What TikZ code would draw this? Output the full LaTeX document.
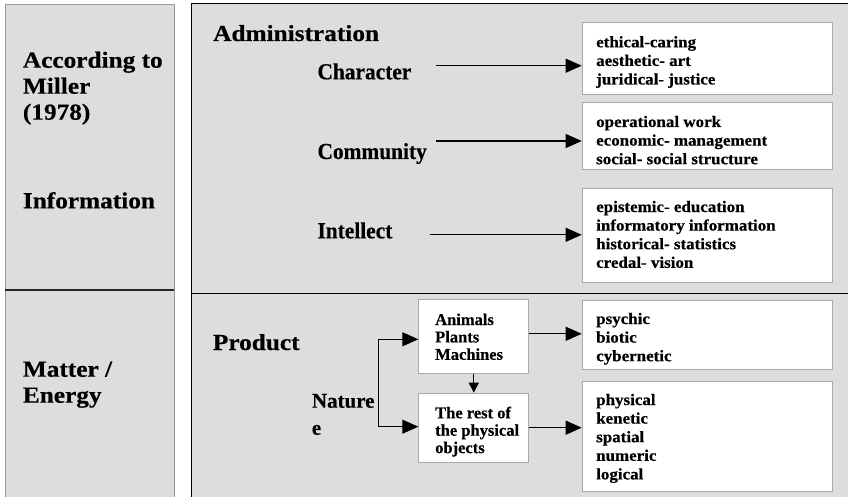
\documentclass[tikz,border=0pt]{standalone}
\usepackage{fontspec}
\setmainfont{Liberation Serif}[BoldFeatures={FakeBold=0.4}]
\newfontfamily\wideF{Liberation Serif}[FakeStretch=1.1,BoldFeatures={FakeBold=0.4}]
\newfontfamily\narrowF{Liberation Serif}[FakeStretch=0.93,BoldFeatures={FakeBold=0.4}]
\newfontfamily\boxF{Liberation Serif}[FakeStretch=1.06,BoldFeatures={FakeBold=0.5}]
\usetikzlibrary{arrows.meta}
\definecolor{panel}{HTML}{DDDDDD}
\definecolor{pborder}{HTML}{999999}
\definecolor{bborder}{HTML}{AAAAAA}
\newcommand{\rows}[1]{\begin{tabular}[t]{@{}l@{}}#1\end{tabular}}
\begin{document}
\begin{tikzpicture}[x=1pt,y=-1pt,
  lbl/.style={inner sep=0pt, anchor=base west},
  big/.style={font=\wideF\bfseries\fontsize{23}{26}\selectfont},
  mid/.style={font=\narrowF\bfseries\fontsize{23}{26}\selectfont},
  boxtxt/.style={font=\boxF\bfseries\fontsize{16}{18.6}\selectfont},
  midtxt/.style={font=\bfseries\fontsize{16.5}{17.4}\selectfont},
  natxt/.style={font=\bfseries\fontsize{21}{27}\selectfont},
  wbox/.style={draw=bborder, fill=white, line width=1pt, inner sep=0pt, anchor=north west},
  arr/.style={-{Triangle[length=16pt,width=14pt]}, line width=1.2pt},
  sarr/.style={-{Triangle[length=10pt,width=10pt]}, line width=1.2pt}]
\useasboundingbox (0,0) rectangle (848,497);
\fill[white] (0,0) rectangle (848,497);
% panels
\draw[draw=pborder, fill=panel, line width=1pt] (5,5) rectangle (174,505);
\draw[line width=1.2pt, black!85] (5,290) -- (174,290);
\draw[fill=panel, line width=1.3pt] (191.7,3.3) rectangle (860,505);
\draw[line width=1.3pt] (191.7,293.8) -- (860,293.8);
% left labels
\node[lbl,big] (acc) at (22.7,67.7) {\rows{According to\\Miller\\(1978)}};
\node[lbl,big] (info) at (22.7,208.3) {Information};
\node[lbl,big] (me) at (22.7,376.7) {\rows{Matter /\\Energy}};
% administration
\node[lbl,big] (adm) at (213,41) {Administration};
\node[lbl,mid] (cha) at (317.3,79.3) {Character};
\node[lbl,mid] (com) at (317.3,159) {Community};
\node[lbl,mid] (int) at (317.3,238.3) {Intellect};
% right boxes
\node[wbox, minimum width=250pt, minimum height=72.6pt] (b1) at (581.7,21.7) {};
\node[wbox, minimum width=250pt, minimum height=67.6pt] (b2) at (581.7,101.7) {};
\node[wbox, minimum width=250pt, minimum height=94pt] (b3) at (581.7,188.3) {};
\node[wbox, minimum width=250pt, minimum height=69pt] (b4) at (581.7,300) {};
\node[wbox, minimum width=250pt, minimum height=109.7pt] (b5) at (581.7,381) {};
\node[lbl,boxtxt] (t1) at (596,47.3) {\rows{ethical-caring\\aesthetic- art\\juridical- justice}};
\node[lbl,boxtxt] (t2) at (596,127) {\rows{operational work\\economic- management\\social- social structure}};
\node[lbl,boxtxt] (t3) at (596,212) {\rows{epistemic- education\\informatory information\\historical- statistics\\credal- vision}};
\node[lbl,boxtxt] (t4) at (596,324) {\rows{psychic\\biotic\\cybernetic}};
\node[lbl,boxtxt] (t5) at (596,405) {\rows{physical\\kenetic\\spatial\\numeric\\logical}};
% admin arrows
\coordinate (c1) at (436,65.7);
\coordinate (c2) at (436,141);
\coordinate (c3) at (430,234.8);
\draw[arr] (c1) -- (c1 -| b1.west);
\draw[arr] (c2) -- (c2 -| b2.west);
\draw[arr] (c3) -- (c3 -| b3.west);
% product
\node[lbl,big] (prod) at (212.7,350) {Product};
\node[lbl,natxt] (nat) at (311.7,407.7) {\rows{Nature\\e}};
\node[wbox, minimum width=110pt, minimum height=74pt] (anim) at (418.3,299.3) {};
\node[wbox, minimum width=110pt, minimum height=69pt] (rest) at (418.3,392.7) {};
\node[lbl,midtxt] (ta) at (435,325) {\rows{Animals\\Plants\\Machines}};
\node[lbl,midtxt] (tr) at (435,418.3) {\rows{The rest of\\the physical\\objects}};
\coordinate (n1) at (378.3,339.3);
\coordinate (n2) at (378.3,426.7);
\draw[line width=1.2pt] (n1) -- (n2);
\draw[arr] (n1) -- (n1 -| anim.west);
\draw[arr] (n2) -- (n2 -| rest.west);
\draw[sarr] (anim.south) -- (rest.north);
\draw[arr] ([yshift=3pt]anim.east) -- ([yshift=3pt]anim.east -| b4.west);
\draw[arr] (rest.east) -- (rest.east -| b5.west);
\end{tikzpicture}
\end{document}
